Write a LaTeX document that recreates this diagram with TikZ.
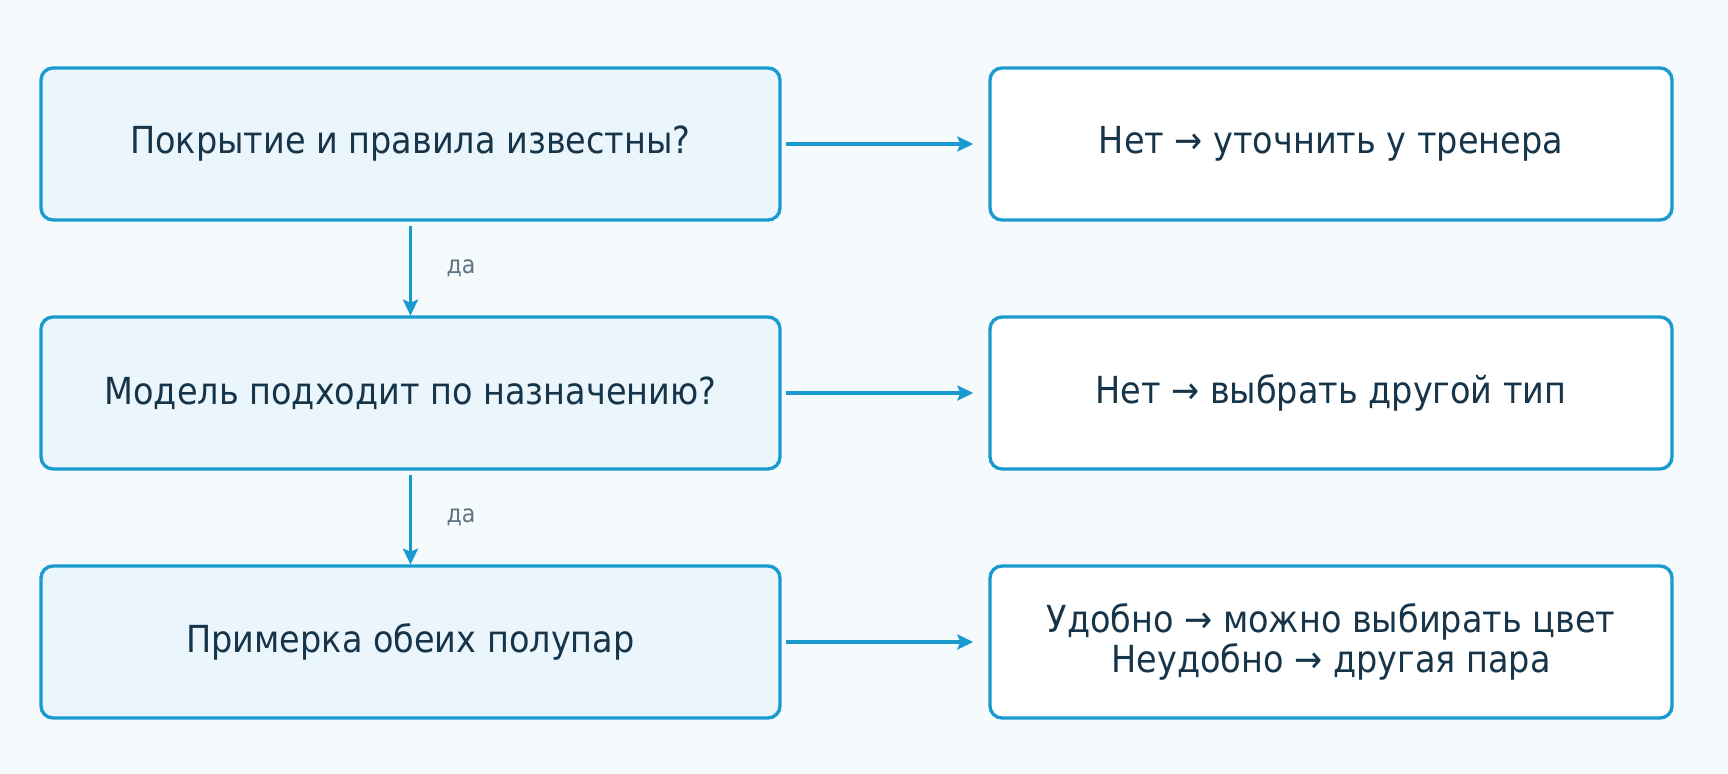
\documentclass[tikz,border=0pt]{standalone}
\usepackage{fontspec}
\setmainfont{DejaVu Sans Condensed}
\usetikzlibrary{positioning,arrows.meta}
\definecolor{edge}{HTML}{1A9BD0}
\definecolor{qfill}{HTML}{EBF6FC}
\definecolor{ink}{HTML}{17354A}
\definecolor{note}{HTML}{5F7482}
\definecolor{bg}{HTML}{F5FAFD}
\tikzset{
  box/.style={draw=edge, line width=0.95pt, rounded corners=0.12cm, minimum height=1.52cm, align=center, text=ink, font=\fontsize{10.6}{11.2}\selectfont},
  ask/.style={box, fill=qfill, minimum width=7.39cm},
  ans/.style={box, fill=white, minimum width=6.82cm},
  link/.style={draw=edge, line width=1.05pt, -{Stealth[length=1.6mm,width=1.5mm,inset=0.3mm]}},
  yes/.style={text=note, font=\fontsize{7}{8}\selectfont}
}
\begin{document}
\begin{tikzpicture}
    \fill[bg] (0,0) rectangle (17.28,-7.74);

    \node[ask] (cover) at (4.105,-1.44) {Покрытие и правила известны?};
    \node[ask] (model) at (4.105,-3.93) {Модель подходит по назначению?};
    \node[ask] (fit) at (4.105,-6.42) {Примерка обеих полупар};

    \node[ans] (coach) at (13.31,-1.44) {Нет → уточнить у тренера};
    \node[ans] (type) at (13.31,-3.93) {Нет → выбрать другой тип};
    \node[ans] (color) at (13.31,-6.42) {Удобно → можно выбирать цвет\\Неудобно → другая пара};

    \draw[link] (cover.south) ++(0,-0.04) coordinate (c1) -- ([yshift=-0.9cm]c1);
    \node[yes] at (4.61,-2.68) {да};
    \draw[link] (model.south) ++(0,-0.04) coordinate (c2) -- ([yshift=-0.9cm]c2);
    \node[yes] at (4.61,-5.17) {да};

    \draw[link] ([xshift=0.04cm]cover.east) -- ([xshift=-0.15cm]coach.west);
    \draw[link] ([xshift=0.04cm]model.east) -- ([xshift=-0.15cm]type.west);
    \draw[link] ([xshift=0.04cm]fit.east) -- ([xshift=-0.15cm]color.west);
\end{tikzpicture}
\end{document}
